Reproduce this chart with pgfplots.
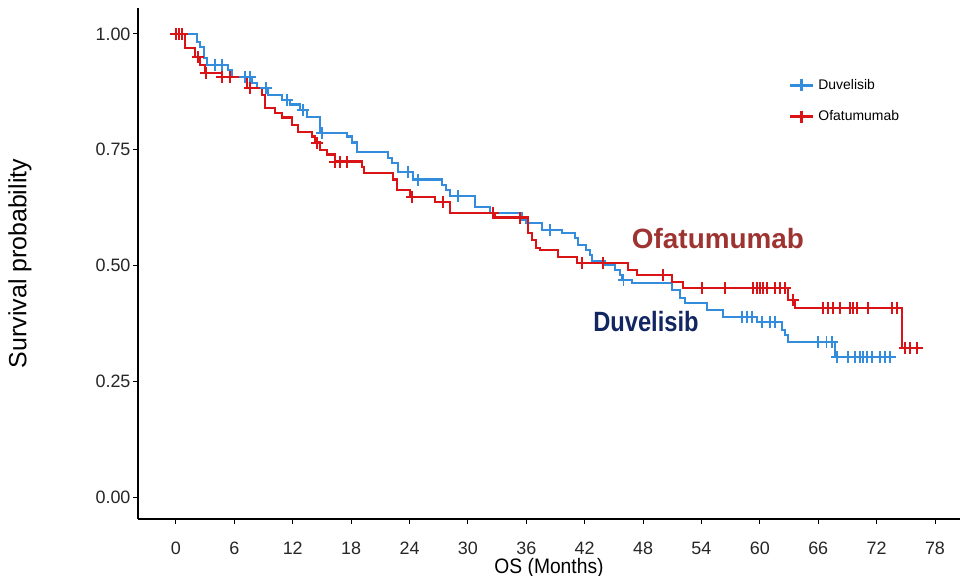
\documentclass[border=0pt]{standalone}
\usepackage{fontspec}
\setmainfont{Liberation Sans}
\usepackage{pgfplots}
\pgfplotsset{compat=1.18}

\definecolor{duvl}{RGB}{52,140,220}
\definecolor{ofat}{RGB}{218,20,22}
\definecolor{ofattxt}{RGB}{158,52,50}
\definecolor{duvtxt}{RGB}{18,38,98}

\begin{document}
\begin{tikzpicture}
\begin{axis}[
    scale only axis,
    width=411bp, height=255.5bp,
    xmin=-3.9, xmax=80.57,
    ymin=-0.0475, ymax=1.056,
    axis x line*=bottom, axis y line*=left,
    axis line style={-, line width=0.75bp, black},
    xtick={0,6,...,78},
    ytick={0,0.25,0.5,0.75,1},
    yticklabel style={/pgf/number format/fixed, /pgf/number format/fixed zerofill, /pgf/number format/precision=2},
    tick align=outside, major tick length=2.5bp,
    tick style={black, line width=0.5bp},
    /pgf/number format/assume math mode=true,
    tick label style={font=\fontsize{9}{10}\selectfont, text=black!85},
    xticklabel style={anchor=center, yshift=-12bp},
    yticklabel style={anchor=center, xshift=-10bp},
    xlabel={OS (Months)}, ylabel={Survival probability},
    x label style={font=\fontsize{10.5}{12}\selectfont, at={(axis description cs:0.5,0)}, anchor=center, yshift=-24.5bp, xscale=0.92},
    y label style={font=\fontsize{12.5}{14}\selectfont, at={(axis description cs:0,0.5)}, anchor=center, yshift=59bp},
    legend style={draw=none, fill=none, at={(0.784,0.818)}, anchor=west,
      font=\fontsize{7}{8}\selectfont, row sep=5bp},
    legend cell align=left,
    legend image code/.code={
      \draw[#1] (0bp,0bp) -- (11.5bp,0bp);
      \draw[#1, only marks, mark=+, mark size=3bp] plot coordinates {(5.75bp,0bp)};
    },
]
% Duvelisib step curve
\addplot[const plot, color=duvl, line width=1.3bp] coordinates {
(0,1.000) (2.16,0.983) (2.47,0.972) (2.88,0.948) (3.19,0.933) (5.34,0.922)
(5.76,0.907) (7.81,0.894) (8.32,0.883) (9.46,0.868) (10.89,0.857) (11.72,0.847)
(12.74,0.836) (13.46,0.821) (14.80,0.786) (17.57,0.778) (18.09,0.765) (18.60,0.745)
(21.79,0.732) (22.20,0.721) (22.82,0.702) (24.36,0.685) (27.34,0.674) (27.75,0.663)
(28.16,0.650) (30.73,0.626) (32.27,0.613) (35.56,0.598) (35.97,0.592) (37.62,0.577)
(39.67,0.570) (41.01,0.559) (41.32,0.544) (42.14,0.533) (42.55,0.523) (42.75,0.508)
(44.09,0.501) (45.12,0.490) (45.63,0.479) (45.90,0.469) (46.87,0.462) (50.98,0.447)
(51.80,0.430) (52.31,0.419) (54.57,0.404) (56.22,0.389) (59.71,0.378) (62.28,0.361)
(62.59,0.350) (62.90,0.335) (67.73,0.302) (73.59,0.302)
};
\addlegendentry{Duvelisib}
% Ofatumumab step curve
\addplot[const plot, color=ofat, line width=1.3bp] coordinates {
(0,1.000) (0.92,0.970) (1.95,0.950) (2.47,0.933) (2.98,0.916) (4.73,0.907)
(7.30,0.883) (8.84,0.868) (9.15,0.840) (10.17,0.829) (10.89,0.819) (11.92,0.803)
(12.54,0.788) (13.98,0.778) (14.29,0.765) (14.80,0.749) (15.52,0.739) (16.34,0.724)
(19.12,0.713) (19.32,0.700) (22.30,0.685) (22.71,0.663) (24.05,0.648) (26.62,0.637)
(28.16,0.613) (32.79,0.603) (36.18,0.570) (36.59,0.555) (37.00,0.538) (37.41,0.533)
(39.26,0.518) (41.21,0.505) (46.45,0.490) (47.38,0.479) (50.98,0.464) (52.11,0.451)
(62.90,0.425) (63.62,0.408) (74.61,0.322) (76.46,0.322)
};
\addlegendentry{Ofatumumab}
% censored observations
\addplot[forget plot, only marks, mark=+, mark size=3bp, color=duvl, mark options={line width=0.9bp}] coordinates {
(4.01,0.933) (4.73,0.933) (7.09,0.907) (7.61,0.907) (9.25,0.883) (11.41,0.857)
(13.05,0.836) (15.01,0.786) (23.84,0.702) (24.87,0.685) (28.98,0.650) (38.44,0.577)
(46.00,0.469) (58.17,0.389) (58.68,0.389) (59.20,0.389) (60.23,0.378) (61.05,0.378)
(61.56,0.378) (65.98,0.335) (66.85,0.335) (67.42,0.335) (67.93,0.302) (69.06,0.302)
(69.78,0.302) (70.30,0.302) (70.61,0.302) (71.02,0.302) (71.53,0.302) (72.35,0.302)
(72.87,0.302) (73.38,0.302)
};
\addplot[forget plot, only marks, mark=+, mark size=3bp, color=ofat, mark options={line width=0.9bp}] coordinates {
(0,1.000) (0.31,1.000) (0.62,1.000) (2.26,0.950) (3.10,0.916) (4.73,0.907)
(5.55,0.907) (7.61,0.883) (14.49,0.765) (16.34,0.724) (16.86,0.724) (17.57,0.724)
(24.25,0.648) (27.44,0.637) (32.58,0.613) (35.35,0.603) (41.73,0.505) (43.88,0.505)
(50.05,0.479) (54.06,0.451) (56.42,0.451) (59.30,0.451) (59.71,0.451) (60.02,0.451)
(60.33,0.451) (60.74,0.451) (61.56,0.451) (62.08,0.451) (62.59,0.451) (63.41,0.425)
(66.50,0.408) (67.01,0.408) (67.52,0.408) (68.24,0.408) (69.27,0.408) (69.58,0.408)
(69.99,0.408) (71.12,0.408) (73.59,0.408) (74.10,0.408) (74.92,0.322) (75.44,0.322)
(76.16,0.322)
};
\node[font=\fontsize{14}{16}\selectfont\bfseries, text=ofattxt] at (axis cs:55.7,0.559) {Ofatumumab};
\node[font=\fontsize{14}{16}\selectfont\bfseries, text=duvtxt, xscale=0.85] at (axis cs:48.3,0.378) {Duvelisib};
\coordinate (ll) at (rel axis cs:0,0);
\coordinate (ur) at (rel axis cs:1,1);
\end{axis}
\pgfresetboundingbox
\path (ll) ++(-69bp,-28.5bp) coordinate (a);
\path (ur) ++(0.5bp,4bp) coordinate (b);
\path (a) rectangle (b);
\end{tikzpicture}
\end{document}
